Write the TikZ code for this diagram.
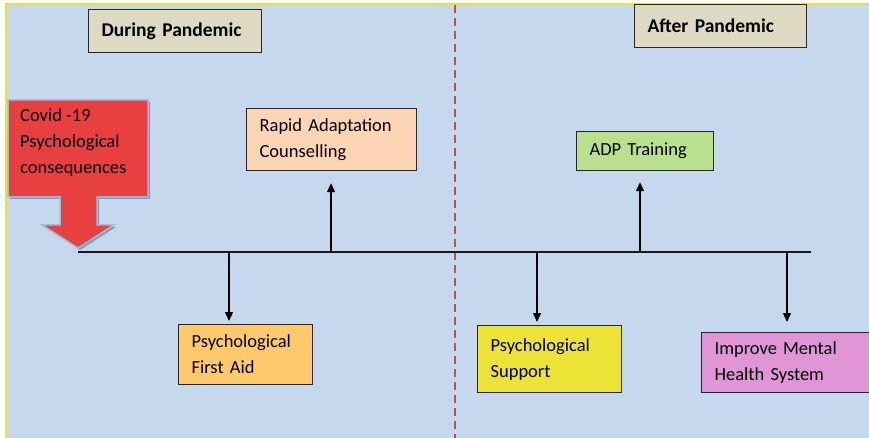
\documentclass[tikz,border=0pt]{standalone}
\usepackage{fontspec}
\setmainfont{Carlito}
\usetikzlibrary{arrows.meta,calc}
\definecolor{bg}{HTML}{C6D8EE}
\definecolor{frameyellow}{HTML}{EEE22A}
\definecolor{tan}{HTML}{DDD9C3}
\definecolor{peach}{HTML}{FCD5B4}
\definecolor{lgreen}{HTML}{B9E08C}
\definecolor{lorange}{HTML}{FEC96A}
\definecolor{lyellow}{HTML}{EDE337}
\definecolor{lpink}{HTML}{E096D6}
\definecolor{covidred}{HTML}{E84040}
\definecolor{covidedge}{HTML}{A3BBDD}
\definecolor{covidshadow}{HTML}{7F9BC0}
\definecolor{dashred}{HTML}{C0504D}
\tikzset{
  box/.style={draw=black!85, line width=1.2pt, anchor=north west, inner xsep=13pt, inner ysep=0pt,
    align=left, font=\fontsize{18.5}{26}\selectfont, execute at begin node={\hyphenpenalty=10000}},
  head/.style={box, font=\fontsize{19.5}{26}\selectfont\bfseries, fill=tan},
  arr/.style={-{Triangle[length=9pt,width=8pt]}, line width=1.3pt, black},
  timeline/.style={line width=1.2pt, black!90}
}
\begin{document}
\begin{tikzpicture}[x=1pt,y=-1pt]
\useasboundingbox (0,0) rectangle (869,438);
% background
\fill[bg] (6,4) rectangle (869,438);
\draw[frameyellow, line width=1.8pt] (6,438) -- (6,4) -- (869,4);
% divider
\draw[dashred, line width=1.2pt, dash pattern=on 8pt off 5pt] (455,5) -- (455,438);
% headings
\node[head, minimum width=173pt, minimum height=43pt, text width=147pt] (during) at (88,9) {During Pandemic};
\node[head, minimum width=172pt, minimum height=43pt, text width=146pt] (after) at (634,4) {After Pandemic};
% covid arrow
\fill[covidshadow] ($(8,100)+(2,2)$) -- ++(140,0) -- ++(0,97) -- ++(-51,0) -- ++(0,28) -- ++(17,0) -- ++(-36,23) -- ++(-36,-23) -- ++(18,0) -- ++(0,-28) -- ++(-52,0) -- cycle;
\draw[fill=covidred, draw=covidedge, line width=1.5pt] (8,100) -- ++(140,0) -- ++(0,97) -- ++(-51,0) -- ++(0,28) -- ++(17,0) -- ++(-36,23) -- ++(-36,-23) -- ++(18,0) -- ++(0,-28) -- ++(-52,0) -- cycle;
\node[anchor=west, align=left, inner sep=0pt, font=\fontsize{18.5}{26}\selectfont] (covid) at (20,143) {Covid -19\\Psychological\\consequences};
% timeline
\coordinate (tstart) at (78,252);
\coordinate (tend) at (811,252);
\draw[timeline] (tstart) -- (tend);
\coordinate (t1) at (229,252);
\coordinate (t2) at (331,252);
\coordinate (t3) at (537,252);
\coordinate (t4) at (640,252);
\coordinate (t5) at (787,252);
% boxes
\node[box, fill=peach, minimum width=170pt, minimum height=62pt, text width=144pt] (rapid) at (246,108) {Rapid Adaptation\\Counselling};
\node[box, fill=lgreen, minimum width=137pt, minimum height=39pt, text width=111pt] (adp) at (576,131) {ADP Training};
\node[box, fill=lorange, minimum width=134pt, minimum height=60pt, text width=108pt] (pfa) at (178,324) {Psychological\\First Aid};
\node[box, fill=lyellow, minimum width=144pt, minimum height=67pt, text width=118pt] (support) at (477,325) {Psychological\\Support};
\node[box, fill=lpink, minimum width=180pt, minimum height=60pt, text width=154pt] (improve) at (701,332) {Improve Mental\\Health System};
% connectors
\draw[arr, shorten >=12pt] (t2) -- (t2 |- rapid.south);
\draw[arr, shorten >=11pt] (t4) -- (t4 |- adp.south);
\draw[arr, shorten >=3pt] (t1) -- (t1 |- pfa.north);
\draw[arr, shorten >=3pt] (t3) -- (t3 |- support.north);
\draw[arr, shorten >=10pt] (t5) -- (t5 |- improve.north);
\end{tikzpicture}
\end{document}
